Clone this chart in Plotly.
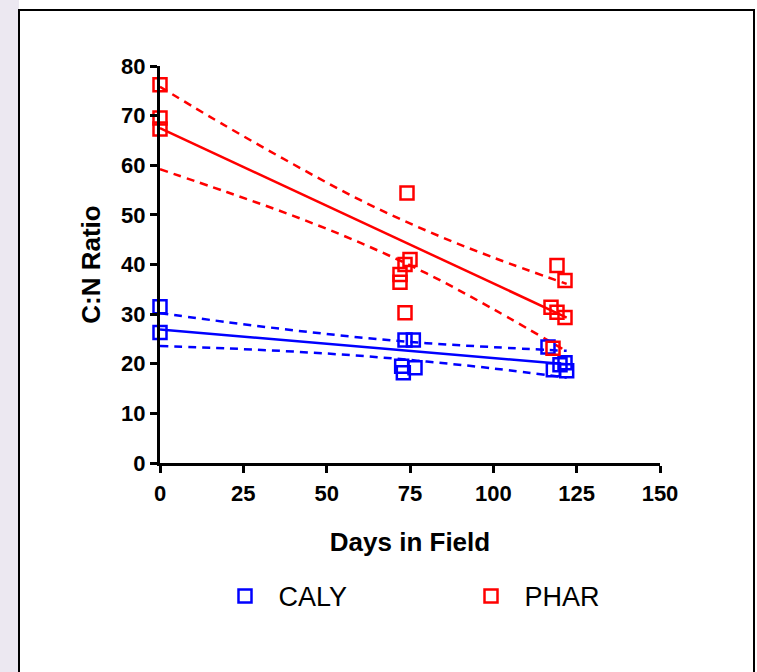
import plotly.graph_objects as go

# ---------------- data ----------------
caly_days = [0, 0, 73.5, 76, 72.5, 73, 76.5, 116.4, 118, 120, 121.5, 122]
caly_cn = [31.5, 26.3, 24.8, 24.8, 19.5, 18.2, 19.2, 23.4, 18.8, 19.8, 20.2, 18.6]

phar_days = [0, 0, 0, 74.1, 75.0, 73.5, 72.0, 72.0, 73.5, 119.1, 121.5, 117.3, 119.1, 121.5, 117.9]
phar_cn = [76.2, 69.5, 67.3, 54.4, 41.0, 40.0, 38.0, 36.4, 30.3, 39.8, 36.8, 31.4, 30.4, 29.3, 23.1]

# regression lines (end points) and 95% confidence bands
fit_days = [0, 122]
caly_fit = [26.9, 19.9]
phar_fit = [67.5, 29.3]

band_days = [0, 20, 40, 60, 80, 100, 122]
caly_upper = [30.2, 28.4, 26.75, 25.3, 24.15, 23.35, 22.6]
caly_lower = [23.6, 23.1, 22.45, 21.6, 20.45, 19.05, 17.2]
phar_upper = [75.8, 67.8, 60.2, 53.0, 46.8, 41.4, 36.1]
phar_lower = [59.2, 54.6, 49.8, 44.4, 38.2, 31.0, 22.5]

x_ticks = [0, 25, 50, 75, 100, 125, 150]
y_ticks = [0, 10, 20, 30, 40, 50, 60, 70, 80]

BLUE = "#0000FF"
RED = "#FF0000"
FONT = "Liberation Sans, Arial, sans-serif"

fig = go.Figure()

# confidence bands
for xs, ys, col in [(band_days, caly_upper, BLUE), (band_days, caly_lower, BLUE),
                    (band_days, phar_upper, RED), (band_days, phar_lower, RED)]:
    fig.add_trace(go.Scatter(x=xs, y=ys, mode="lines", showlegend=False, hoverinfo="skip",
                             line=dict(color=col, width=2.5, dash="8px,6px", shape="spline"),
                             cliponaxis=False))
# regression lines
fig.add_trace(go.Scatter(x=fit_days, y=caly_fit, mode="lines", showlegend=False,
                         line=dict(color=BLUE, width=2.5), cliponaxis=False))
fig.add_trace(go.Scatter(x=fit_days, y=phar_fit, mode="lines", showlegend=False,
                         line=dict(color=RED, width=2.5), cliponaxis=False))
# points
fig.add_trace(go.Scatter(x=caly_days, y=caly_cn, mode="markers", name="\u2002CALY",
                         marker=dict(symbol="square-open", size=13, color=BLUE,
                                     line=dict(width=2.5, color=BLUE)),
                         cliponaxis=False, legend="legend"))
fig.add_trace(go.Scatter(x=phar_days, y=phar_cn, mode="markers", name="\u2002PHAR",
                         marker=dict(symbol="square-open", size=13, color=RED,
                                     line=dict(width=2.5, color=RED)),
                         cliponaxis=False, legend="legend2"))

# pixel -> paper helpers for the frame
L, R, T, B = 160, 97, 66, 208.5
W, H = 757, 672
pw, ph = W - L - R, H - T - B
def px(X):
    return (X - L) / pw
def py(Y):
    return (H - B - Y) / ph

shapes = [
    dict(type="rect", xref="paper", yref="paper", x0=px(-5), x1=px(19), y0=py(700), y1=py(-5),
         fillcolor="#ECE8F1", line=dict(width=0), layer="below"),
    dict(type="rect", xref="paper", yref="paper", x0=px(19), x1=px(754), y0=py(690), y1=py(10),
         fillcolor="white", line=dict(color="black", width=2), layer="below"),
]

axis_common = dict(showline=True, linecolor="black", linewidth=3, ticks="outside",
                   ticklen=7, tickwidth=3, tickcolor="black", showgrid=False, zeroline=False,
                   tickfont=dict(family=FONT, size=22, color="black", weight="bold"))

fig.update_layout(
    width=W, height=H, autosize=False,
    margin=dict(l=L, r=R, t=T, b=B, pad=0),
    paper_bgcolor="white", plot_bgcolor="rgba(0,0,0,0)",
    shapes=shapes,
    xaxis=dict(range=[0, 150], tickvals=x_ticks, ticklabelstandoff=2, **axis_common,
               title=dict(text="Days in Field", standoff=28,
                          font=dict(family=FONT, size=26, color="black", weight="bold"))),
    yaxis=dict(range=[0, 80], tickvals=y_ticks, **axis_common,
               title=dict(text="C:N Ratio", standoff=14,
                          font=dict(family=FONT, size=26, color="black", weight="bold"))),
    legend=dict(x=px(225), y=py(597), xanchor="left", yanchor="middle", orientation="h",
                bgcolor="rgba(0,0,0,0)", font=dict(family=FONT, size=27, color="black")),
    legend2=dict(x=px(471), y=py(597), xanchor="left", yanchor="middle", orientation="h",
                 bgcolor="rgba(0,0,0,0)", font=dict(family=FONT, size=27, color="black")),
)

fig.write_html("out.html")
